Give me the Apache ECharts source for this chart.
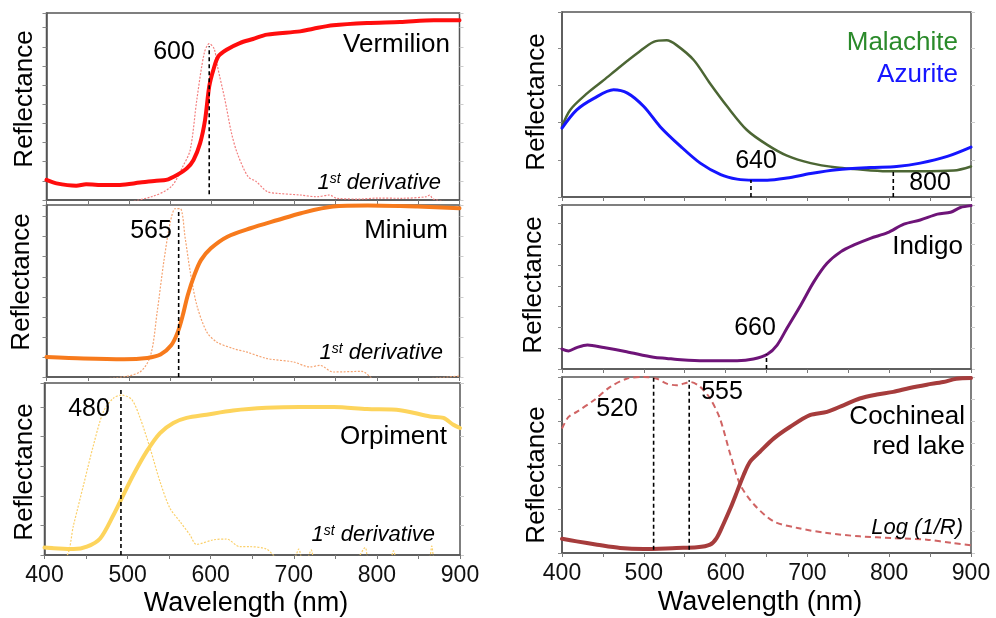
<!DOCTYPE html>
<html><head><meta charset="utf-8">
<script src="https://cdn.jsdelivr.net/npm/echarts@6/dist/echarts.min.js"></script>
<style>html,body{margin:0;padding:0;background:#fff}#c{width:996px;height:618px}</style>
</head><body><div id="c"></div>
<script>
// ---- Data (wavelength nm, reflectance arbitrary units) ----
const vermNm = [400,412,436,448,470,489,513,533,545,558,570,578,586,592,597,602,608,618,634,650,667,707,723,747,788,828,869,900];
const vermR  = [10.5,8.7,7.5,8.2,7.8,7.9,9.1,10.1,10.5,13.1,16.6,20.9,29.7,41.9,59.3,68,75,78.5,82,84.1,86.4,88.1,89.5,91.3,92.5,93,93.9,93.9];
const vermDNm = [400,480,527,551,565,574,582,591,597,603,607,616,624,631,644,654,667,679,707,727,743,751,780,800,830,860,864,868,900];
const vermDR  = [-2,-2,1.7,7,17.5,26.2,52.4,76.8,81.7,79,69.8,52.4,34.9,24.4,12.2,9.6,4.4,3.5,2.6,1.7,2.6,0.9,0.5,1,0.9,1.7,2.6,0.5,-2];

const miniNm = [400,445,494,522,538,551,559,565,571,579,587,599,619,647,680,708,747,789,849,900];
const miniR  = [10,9.2,8.8,9.5,11.2,15.8,22.5,30.8,40.8,50.8,58.3,64.2,70,74.2,78.3,81.7,85,85.5,85,84.2];
const miniDNm = [400,482,513,526,534,542,550,556,562,568,574,582,594,606,626,642,667,699,719,731,747,782,797,850,900];
const miniDR  = [-2,-0.5,2.5,10.8,32.5,57.5,77.5,84,84,69,52.5,35.8,22.5,17.5,14.2,12.5,9.2,7.5,5,5.8,2.5,2.8,-1,-1,0.5];

const orpNm = [400,411,435,451,467,483,493,507,523,539,555,571,595,627,667,707,748,788,828,864,880,892,900];
const orpR  = [2.5,2.3,2.0,2.8,5.6,13.5,19.2,27.1,35,41.2,44.6,46.3,47.4,48.8,49.7,50,50,49.3,48.9,46.8,46.3,44,42.9];
const orpDNm = [400,425,435,447,459,471,483,493,505,515,527,539,551,563,575,583,603,619,635,647,667,681,700,706,710,716,721,725,775,786,790,816,820,824,862,866,870,900];
const orpDR  = [-2,-1,10.2,23.7,37.2,48.5,53,54,52.5,46.3,36.1,24.8,15.8,11.3,6.8,3.6,5.1,5.4,2.8,2.8,2,-1,-1,2,-1,-1,1.7,-1,-1,2.5,-1,-1,1.4,-1,-1,3,-1,-1];

const malNm = [400,410,431,451,471,492,512,528,540,561,581,602,626,651,675,704,736,757,797,838,879,900];
const malR  = [18.9,23.4,27.9,31.4,35,38.6,41.7,42.1,40.8,36.8,30.5,24.3,18,14,11.1,9.1,7.9,7.5,6.9,6.9,7.1,8.2];
const azNm = [400,418,439,463,480,500,520,545,569,594,614,634,651,675,704,736,777,809,838,871,900];
const azR  = [18.5,23.4,26.5,28.8,27.9,24.3,18.9,13.6,9.1,6,4.8,4.5,4.5,5.1,6.3,7.3,7.9,8.2,9.1,10.9,13.4];

const indNm = [400,408,418,431,451,479,512,528,541,573,614,634,651,663,675,692,708,724,741,757,777,798,818,838,859,875,887,900];
const indR  = [9.6,8.7,10.3,11.5,10.3,8.3,5.6,5.1,4.6,4,4,4.8,7.1,11.5,19.6,30.8,42,50.8,56.4,59.6,62.8,65.5,69.6,71.6,74.4,75.3,77.6,78.5];

const cochNm = [400,418,443,471,500,540,565,581,589,597,606,614,622,630,642,659,679,703,724,744,764,785,805,825,846,866,882,900];
const cochR  = [6.5,5.3,3.8,2.3,1.8,2.3,2.6,3.8,6.8,12.9,20.5,28,35.6,41.7,46.2,52.3,57.6,62.9,64.4,67.4,70.5,72.3,73.5,75.3,76.8,78,79.5,79.8];
const logNm = [400,408,418,439,459,479,500,516,528,540,557,569,581,593,606,618,635,659,688,724,764,805,846,878,900];
const logR  = [56.8,62.1,64.4,69.7,75.8,79.5,80.3,79.5,77.3,76.5,78,75.8,70.5,61.4,44.7,31.1,22,14.4,11.4,9.1,7.6,6.8,6.1,4.5,3.5];

// vertical dashed markers: panel index, wavelength, bottom, top
const markPanel = [0, 1, 2, 3, 3, 4, 5, 5];
const markNm    = [597, 560, 492, 631, 805, 650, 512, 555.5];
const markLow   = [3, 0, 0, 0, 0, 0, 1.5, 1.5];
const markHigh  = [80.3, 82.5, 55.9, 4.6, 6.9, 7.1, 80.3, 78.8];

const xTicks = [400, 500, 600, 700, 800, 900];

// ---- Layout ----
const FONT = 'Liberation Sans, Arial, sans-serif';
const grids = [
  {left:46.5, top:13,  width:413,   height:187},
  {left:46.5, top:205, width:413,   height:172},
  {left:44.5, top:383, width:415.5, height:172},
  {left:562,  top:12,  width:409,   height:185},
  {left:562,  top:205, width:409,   height:164},
  {left:562,  top:377, width:409,   height:176}
];
const yMax = [97.7, 85.8, 58.1, 49.7, 78.8, 80.3];
const showX = [false, false, true, false, false, true];

const pts = (a, b) => a.map((x, i) => [x, b[i]]);

const xAxis = grids.map((g, i) => ({
  type:'value', gridIndex:i, min:400, max:900, interval:50,
  axisLine:{show:true, lineStyle:{color:'#555', width:1.5}},
  axisTick:{show:true, length:4, lineStyle:{color:'#777', width:1}},
  axisLabel:{show:showX[i], margin:9, fontSize:23, color:'#111', fontFamily:FONT,
    formatter: v => xTicks.indexOf(v) >= 0 ? String(v) : ''},
  splitLine:{show:false}
}));
const yAxis = [];
grids.forEach((g, i) => {
  yAxis.push({type:'value', gridIndex:i, min:0, max:yMax[i], interval:10, position:'left',
    axisLine:{show:true, lineStyle:{color:'#555', width:1.5}},
    axisTick:{show:true, length:4, lineStyle:{color:'#888'}},
    axisLabel:{show:false}, splitLine:{show:false}});
  yAxis.push({type:'value', gridIndex:i, min:0, max:yMax[i], interval:10, position:'right',
    axisLine:{show:false},
    axisTick:{show:true, length:4, lineStyle:{color:'#ccc'}},
    axisLabel:{show:false}, splitLine:{show:false}});
});

function line(panel, data, color, width, type, z, thin) {
  return {type:'line', xAxisIndex:panel, yAxisIndex:panel*2, data:data, showSymbol:false, symbol:'none',
    smooth:0.3, clip:true, z:z||2, silent:true,
    lineStyle:{color:color, width:width, type:type||'solid', cap:thin?'butt':'round', join:'round'}};
}

const series = [
  line(0, pts(vermDNm, vermDR), '#f37f7f', 1.2, [2,1.5], 1, true),
  line(0, pts(vermNm, vermR), '#ff0d0d', 4, 'solid', 2),
  line(1, pts(miniDNm, miniDR), '#f5a472', 1.2, [2,1.5], 1, true),
  line(1, pts(miniNm, miniR), '#f77a1c', 4, 'solid', 2),
  line(2, pts(orpDNm, orpDR), '#fbd06a', 1.2, [2,1.5], 1, true),
  line(2, pts(orpNm, orpR), '#fdd45c', 4, 'solid', 2),
  line(3, pts(malNm, malR), '#4c6634', 2.5, 'solid', 2),
  line(3, pts(azNm, azR), '#1515ff', 3, 'solid', 3),
  line(4, pts(indNm, indR), '#6e1478', 3, 'solid', 2),
  line(5, pts(logNm, logR), '#d06464', 2, [6,4], 1, true),
  line(5, pts(cochNm, cochR), '#a63c3c', 4, 'solid', 2)
];
markNm.forEach((x, k) => {
  const p = markPanel[k];
  series.push({type:'line', xAxisIndex:p, yAxisIndex:p*2, data:[[x, markLow[k]], [x, markHigh[k]]],
    showSymbol:false, symbol:'none', z:5, silent:true,
    lineStyle:{color:'#000', width:1.6, type:[4,3]}});
});

function T(text, x, y, o) {
  o = o || {};
  return {type:'text', x:x, y:y, rotation:o.rot||0, z:10, silent:true,
    style:{text:text, fill:o.color||'#000', fontSize:o.size||26, fontFamily:FONT,
      fontStyle:o.italic?'italic':'normal', align:o.align||'center', verticalAlign:'middle'}};
}
function deriv(x, y) {
  return {type:'text', x:x, y:y, z:10, silent:true,
    style:{text:'{a|1}{s|st}{a| derivative}', align:'right', verticalAlign:'middle', fill:'#000',
      rich:{a:{fontSize:22, fontStyle:'italic', fontFamily:FONT, fill:'#000', verticalAlign:'bottom'},
            s:{fontSize:14, fontStyle:'italic', fontFamily:FONT, fill:'#000', verticalAlign:'top', padding:[0,0,0,0]}}}};
}
const R = Math.PI/2;
const graphic = [
  T('Reflectance', 25, 99, {rot:R}),
  T('Reflectance', 22, 282, {rot:R}),
  T('Reflectance', 25, 472, {rot:R}),
  T('Reflectance', 537, 102, {rot:R}),
  T('Reflectance', 534, 285, {rot:R}),
  T('Reflectance', 537, 475, {rot:R}),
  T('Wavelength (nm)', 246, 604, {size:27}),
  T('Wavelength (nm)', 760, 603, {size:27}),
  T('600', 174, 52, {size:25}),
  T('Vermilion', 450, 45, {align:'right'}),
  deriv(441, 183),
  T('565', 151, 231, {size:25}),
  T('Minium', 448, 231, {align:'right'}),
  deriv(443, 353),
  T('480', 89, 409, {size:25}),
  T('Orpiment', 447, 437, {align:'right'}),
  deriv(435, 535),
  T('Malachite', 958, 43, {align:'right', color:'#2a8a2a'}),
  T('Azurite', 958, 75, {align:'right', color:'#1515ff'}),
  T('640', 756, 161, {size:25}),
  T('800', 930, 183, {size:25}),
  T('Indigo', 963, 247, {align:'right'}),
  T('660', 755, 328, {size:25}),
  T('520', 617, 409, {size:25}),
  T('555', 722, 392, {size:25}),
  T('Cochineal', 965, 417, {align:'right'}),
  T('red lake', 965, 447, {align:'right'}),
  T('Log (1/R)', 963, 528, {align:'right', italic:true, size:22})
];

const chart = echarts.init(document.getElementById('c'), null, {renderer:'canvas'});
chart.setOption({
  animation:false,
  backgroundColor:'#fff',
  grid: grids.map(g => Object.assign({show:true, borderColor:'#555', borderWidth:1.5, backgroundColor:'transparent', containLabel:false}, g)),
  xAxis: xAxis,
  yAxis: yAxis,
  series: series,
  graphic: graphic
});
</script>
</body></html>
